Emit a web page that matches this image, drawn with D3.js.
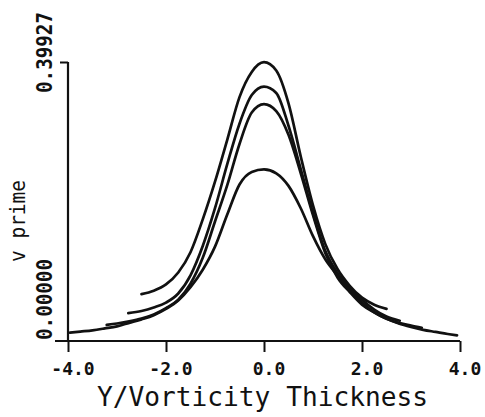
<!DOCTYPE html>
<html>
<head>
<meta charset="utf-8">
<script src="https://cdn.jsdelivr.net/npm/d3@7"></script>
<style>
  body { margin: 0; background: #fff; }
  text { font-family: "DejaVu Sans Mono", monospace; fill: #111; }
</style>
</head>
<body>
<div id="chart"></div>
<script>
// profiles of v prime against Y / vorticity thickness
var x1 = [-2.5, -2.25, -2, -1.75, -1.5, -1.25, -1, -0.75, -0.5, -0.25, 0, 0.25, 0.5, 0.75, 1, 1.25, 1.5, 1.75, 2, 2.25, 2.5];
var v1 = [0.067, 0.072, 0.081, 0.098, 0.127, 0.174, 0.228, 0.288, 0.349, 0.385, 0.399, 0.387, 0.340, 0.264, 0.194, 0.139, 0.103, 0.079, 0.062, 0.052, 0.046];

var x2 = [-2.77, -2.5, -2.25, -2, -1.75, -1.5, -1.25, -1, -0.75, -0.5, -0.25, 0, 0.25, 0.5, 0.75, 1, 1.25, 1.5, 1.75, 2, 2.25, 2.5, 2.77];
var v2 = [0.040, 0.043, 0.048, 0.055, 0.068, 0.094, 0.136, 0.190, 0.253, 0.311, 0.352, 0.364, 0.355, 0.308, 0.246, 0.183, 0.129, 0.097, 0.076, 0.059, 0.045, 0.035, 0.029];

var x3 = [-3.21, -3, -2.75, -2.5, -2.25, -2, -1.75, -1.5, -1.25, -1, -0.75, -0.5, -0.25, 0, 0.25, 0.5, 0.75, 1, 1.25, 1.5, 1.75, 2, 2.25, 2.5, 2.75, 3, 3.22];
var v3 = [0.023, 0.025, 0.028, 0.032, 0.038, 0.047, 0.059, 0.082, 0.119, 0.171, 0.223, 0.282, 0.327, 0.339, 0.329, 0.295, 0.240, 0.180, 0.126, 0.091, 0.070, 0.052, 0.041, 0.032, 0.026, 0.022, 0.019];

var x4 = [-3.96, -3.75, -3.5, -3.25, -3, -2.75, -2.5, -2.25, -2, -1.75, -1.5, -1.25, -1, -0.75, -0.5, -0.25, 0, 0.25, 0.5, 0.75, 1, 1.25, 1.5, 1.75, 2, 2.25, 2.5, 2.75, 3, 3.25, 3.5, 3.75, 3.94];
var v4 = [0.012, 0.0135, 0.0153, 0.018, 0.021, 0.026, 0.031, 0.037, 0.046, 0.058, 0.077, 0.102, 0.135, 0.181, 0.224, 0.242, 0.2456, 0.240, 0.222, 0.190, 0.150, 0.117, 0.094, 0.073, 0.055, 0.041, 0.032, 0.025, 0.020, 0.016, 0.013, 0.010, 0.008];

var xTicks = [-4, -2, 0, 2, 4];
var yTicks = [0, 0.39927];
var yTickLabels = ["0.00000", "0.39927"];

var svgWidth = 485;
var svgHeight = 417;

var svg = d3.select("#chart")
  .append("svg")
  .attr("width", svgWidth)
  .attr("height", svgHeight);

var xScale = d3.scaleLinear()
  .domain([-4, 4])
  .range([68, 460]);

var yScale = d3.scaleLinear()
  .domain([0, 0.39927])
  .range([341, 62]);

// x axis
var bottomAxis = d3.axisBottom(xScale)
  .tickValues(xTicks)
  .tickSize(11)
  .tickFormat("");

var xAxisG = svg.append("g")
  .attr("transform", `translate(0, ${yScale(0)})`)
  .call(bottomAxis);
xAxisG.select(".domain").remove();
xAxisG.selectAll("line").attr("stroke", "#111").attr("stroke-width", 2);

svg.append("line")
  .attr("x1", 55).attr("x2", xScale(4))
  .attr("y1", yScale(0)).attr("y2", yScale(0))
  .attr("stroke", "#111").attr("stroke-width", 2.2);

svg.selectAll(".xlab")
  .data(xTicks)
  .enter()
  .append("text")
  .attr("class", "xlab")
  .attr("x", d => xScale(d) + 5)
  .attr("y", 375)
  .attr("text-anchor", "middle")
  .style("font-size", "18px")
  .style("font-weight", "bold")
  .text(d => d.toFixed(1));

// y axis
var leftAxis = d3.axisLeft(yScale)
  .tickValues([0.39927])
  .tickSize(8)
  .tickFormat("");

var yAxisG = svg.append("g")
  .attr("transform", `translate(${xScale(-4)}, 0)`)
  .call(leftAxis);
yAxisG.select(".domain").remove();
yAxisG.selectAll("line").attr("stroke", "#111").attr("stroke-width", 2);

svg.append("line")
  .attr("x1", xScale(-4)).attr("x2", xScale(-4))
  .attr("y1", yScale(0.39927)).attr("y2", yScale(0))
  .attr("stroke", "#111").attr("stroke-width", 2.2);

// y tick labels, rotated
svg.selectAll(".ylab")
  .data(yTicks)
  .enter()
  .append("text")
  .attr("class", "ylab")
  .attr("transform", (d, i) => `translate(52, ${i == 0 ? yScale(d) - 1 : yScale(d) + 31}) rotate(-90)`)
  .attr("text-anchor", "start")
  .attr("textLength", 81)
  .attr("lengthAdjust", "spacingAndGlyphs")
  .style("font-size", "21px")
  .style("font-weight", "bold")
  .text((d, i) => yTickLabels[i]);

// axis titles
svg.append("text")
  .attr("transform", "translate(25, 262) rotate(-90)")
  .attr("text-anchor", "start")
  .attr("textLength", 82)
  .attr("lengthAdjust", "spacingAndGlyphs")
  .style("font-size", "22px")
  .text("v prime");

svg.append("text")
  .attr("x", 97)
  .attr("y", 406)
  .attr("textLength", 331)
  .attr("lengthAdjust", "spacingAndGlyphs")
  .style("font-size", "26px")
  .text("Y/Vorticity Thickness");

// curves
var line = d3.line()
  .x(d => xScale(d[0]))
  .y(d => yScale(d[1]))
  .curve(d3.curveMonotoneX);

var series = [[x1, v1], [x2, v2], [x3, v3], [x4, v4]];

svg.selectAll(".profile")
  .data(series)
  .enter()
  .append("path")
  .attr("class", "profile")
  .attr("fill", "none")
  .attr("stroke", "#111")
  .attr("stroke-width", 2.7)
  .attr("stroke-linecap", "round")
  .attr("d", s => line(s[0].map((x, i) => [x, s[1][i]])));
</script>
</body>
</html>
